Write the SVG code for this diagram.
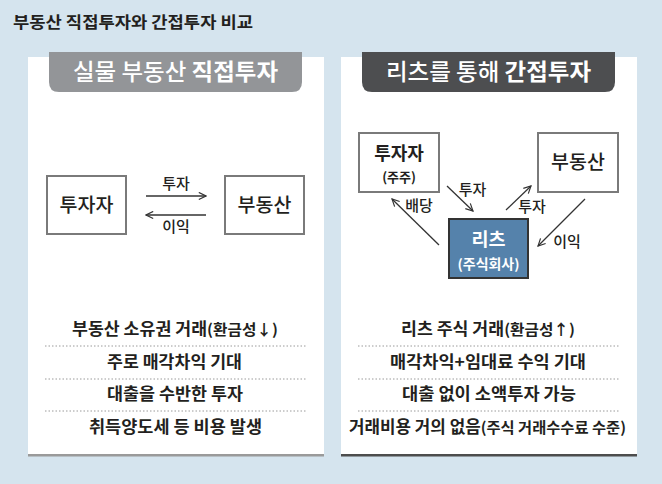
<svg xmlns="http://www.w3.org/2000/svg" width="662" height="484" viewBox="0 0 662 484">
<style>
.t{font-family:"Noto Sans CJK KR","Noto Sans",sans-serif;fill:#231f20}
.b{font-weight:700}
.m{font-weight:500}
.box{fill:#fff;stroke:#7a7a7a;stroke-width:2}
.ln{fill:none;stroke:#333;stroke-width:1.3}
.dot{stroke:#9a9a9a;stroke-width:1;stroke-dasharray:1.5 2}
.w{fill:#fff}
</style>
<defs>
<marker id="ah" viewBox="0 0 10 10" refX="9" refY="5" markerWidth="9" markerHeight="9" markerUnits="userSpaceOnUse" orient="auto">
<path d="M1,1 L9,5 L1,9" fill="none" stroke="#333" stroke-width="1.3"/>
</marker>
</defs>
<rect width="662" height="484" fill="#d5e4ee"/>
<text class="t b" x="13" y="28" font-size="16" textLength="240" lengthAdjust="spacingAndGlyphs">부동산 직접투자와 간접투자 비교</text>

<g id="panel-left">
<rect x="28" y="57" width="296" height="398" fill="#fff"/>
<rect x="28" y="454" width="296" height="2.5" fill="#9a9a9a"/>
<path d="M49,52 H302 V82 Q302,92 292,92 H59 Q49,92 49,82 Z" fill="#939598"/>
<text class="t w" x="73" y="80" font-size="22.5" textLength="205" lengthAdjust="spacingAndGlyphs"><tspan class="m" style="fill:#fff">실물 부동산 </tspan><tspan class="b" style="fill:#fff">직접투자</tspan></text>
</g>

<g id="panel-right">
<rect x="341" y="57" width="296" height="398" fill="#fff"/>
<rect x="341" y="454" width="296" height="2.5" fill="#4d4d4d"/>
<path d="M362,52 H615 V82 Q615,92 605,92 H372 Q362,92 362,82 Z" fill="#4d4e50"/>
<text class="t w" x="386" y="80" font-size="22.5" textLength="205" lengthAdjust="spacingAndGlyphs"><tspan class="m" style="fill:#fff">리츠를 통해 </tspan><tspan class="b" style="fill:#fff">간접투자</tspan></text>
</g>

<g id="node-investor-left">
<rect class="box" x="47" y="176" width="79" height="58"/>
<text class="t m" x="86.5" y="212" font-size="19.5" text-anchor="middle">투자자</text>
</g>
<g id="node-realestate-left">
<rect class="box" x="225" y="176" width="79" height="58"/>
<text class="t m" x="264.5" y="212" font-size="19.5" text-anchor="middle">부동산</text>
</g>

<g id="node-investor-right">
<rect class="box" x="359" y="133" width="80" height="59"/>
<text class="t b" x="399" y="160" font-size="18" text-anchor="middle">투자자</text>
<text class="t b" x="399" y="181.5" font-size="13" text-anchor="middle">(주주)</text>
</g>
<g id="node-realestate-right">
<rect class="box" x="538" y="133" width="80" height="59"/>
<text class="t m" x="578" y="169" font-size="19.5" text-anchor="middle">부동산</text>
</g>
<g id="node-reits">
<rect x="449" y="219" width="79" height="59" fill="#5582ab" stroke="#333" stroke-width="2"/>
<text class="t b w" x="488.5" y="245.5" font-size="18.5" text-anchor="middle" style="fill:#fff">리츠</text>
<text class="t b w" x="488.5" y="268.5" font-size="13.5" text-anchor="middle" textLength="62" lengthAdjust="spacingAndGlyphs" style="fill:#fff">(주식회사)</text>
</g>

<g id="connectors">
<line class="ln" x1="146" y1="196" x2="206" y2="196" marker-end="url(#ah)"/>
<line class="ln" x1="206" y1="215" x2="146" y2="215" marker-end="url(#ah)"/>
<line class="ln" x1="447" y1="186" x2="473" y2="211" marker-end="url(#ah)"/>
<line class="ln" x1="506" y1="210" x2="531" y2="186" marker-end="url(#ah)"/>
<line class="ln" x1="585" y1="199" x2="538" y2="246" marker-end="url(#ah)"/>
<line class="ln" x1="439" y1="245" x2="392" y2="199" marker-end="url(#ah)"/>
<text class="t m" x="176" y="189" font-size="15" text-anchor="middle">투자</text>
<text class="t m" x="176" y="232" font-size="15" text-anchor="middle">이익</text>
<text class="t m" x="472.5" y="195" font-size="15" text-anchor="middle">투자</text>
<text class="t m" x="532" y="212" font-size="15" text-anchor="middle">투자</text>
<text class="t m" x="567" y="247" font-size="15" text-anchor="middle">이익</text>
<text class="t m" x="419" y="211" font-size="15" text-anchor="middle">배당</text>
</g>

<g id="list-left">
<text class="t b" x="72" y="335" font-size="16.5" textLength="206" lengthAdjust="spacingAndGlyphs">부동산 소유권 거래<tspan font-size="15">(환금성↓)</tspan></text>
<line class="dot" x1="45" y1="346" x2="307" y2="346"/>
<text class="t b" x="107" y="368" font-size="16.5" textLength="135" lengthAdjust="spacingAndGlyphs">주로 매각차익 기대</text>
<line class="dot" x1="45" y1="379" x2="307" y2="379"/>
<text class="t b" x="107" y="400" font-size="16.5" textLength="136" lengthAdjust="spacingAndGlyphs">대출을 수반한 투자</text>
<line class="dot" x1="45" y1="411" x2="307" y2="411"/>
<text class="t b" x="89" y="433" font-size="16.5" textLength="173" lengthAdjust="spacingAndGlyphs">취득양도세 등 비용 발생</text>
</g>

<g id="list-right">
<text class="t b" x="401" y="335" font-size="16.5" textLength="174" lengthAdjust="spacingAndGlyphs">리츠 주식 거래<tspan font-size="15">(환금성↑)</tspan></text>
<line class="dot" x1="358" y1="346" x2="619" y2="346"/>
<text class="t b" x="390" y="368" font-size="16.5" textLength="196" lengthAdjust="spacingAndGlyphs">매각차익+임대료 수익 기대</text>
<line class="dot" x1="358" y1="379" x2="619" y2="379"/>
<text class="t b" x="402" y="400" font-size="16.5" textLength="174" lengthAdjust="spacingAndGlyphs">대출 없이 소액투자 가능</text>
<line class="dot" x1="358" y1="411" x2="619" y2="411"/>
<text class="t b" x="349" y="433" font-size="16.5" textLength="277" lengthAdjust="spacingAndGlyphs">거래비용 거의 없음<tspan font-size="15">(주식 거래수수료 수준)</tspan></text>
</g>
</svg>
